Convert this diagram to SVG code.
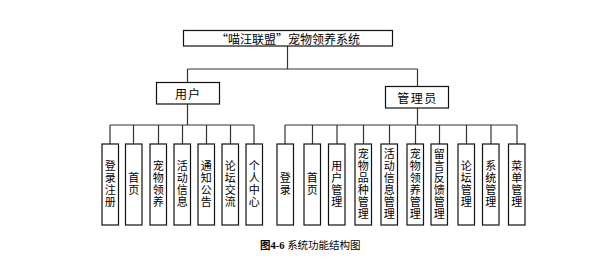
<svg xmlns="http://www.w3.org/2000/svg" width="607" height="273" viewBox="0 0 607 273">
<style>
.box{fill:#fff;stroke:#111;stroke-width:1.2}
.ln{fill:none;stroke:#333;stroke-width:1.2}
.t{font-family:"Noto Sans CJK SC","Noto Sans",sans-serif;font-size:12px;fill:#000;text-anchor:middle;dominant-baseline:central}
.v{font-family:"Noto Sans CJK SC","Noto Sans",sans-serif;font-size:11px;fill:#000;text-anchor:middle;writing-mode:vertical-rl;letter-spacing:1px}
</style>
<rect width="607" height="273" fill="#fff"/>
<g id="connectors">
<path class="ln" d="M287.5 46V69M187.5 69H417.5M187.5 69V82M417.5 69V86"/>
<path class="ln" d="M187.5 104V125M110 125H254M110 125V144M133.5 125V144M158.5 125V144M182.5 125V144M206.5 125V144M230.5 125V144M254 125V144"/>
<path class="ln" d="M417.5 108V125M285 125H517M285 125V144M312.5 125V144M337 125V144M363.5 125V144M389.5 125V144M415.5 125V144M439.5 125V144M466.5 125V144M491 125V144M517 125V144"/>
</g>
<g id="root"><rect class="box" x="183.5" y="30.5" width="209" height="15.5"/><text class="t" x="288" y="38.5">“喵汪联盟”宠物领养系统</text></g>
<g id="user"><rect class="box" x="156.5" y="82.5" width="63" height="21.5"/><text class="t" x="188" y="93.5" letter-spacing="1">用户</text></g>
<g id="admin"><rect class="box" x="385.5" y="86.5" width="63" height="21.5"/><text class="t" x="417.5" y="97.5" letter-spacing="1.5">管理员</text></g>
<g id="u1"><rect class="box" x="102" y="144" width="16.5" height="81"/><text class="v" x="110.3" y="184.5">登录注册</text></g>
<g id="u2"><rect class="box" x="125.5" y="144" width="16.5" height="81"/><text class="v" x="133.8" y="184.5">首页</text></g>
<g id="u3"><rect class="box" x="150" y="144" width="16.5" height="81"/><text class="v" x="158.3" y="184.5">宠物领养</text></g>
<g id="u4"><rect class="box" x="174" y="144" width="16.5" height="81"/><text class="v" x="182.3" y="184.5">活动信息</text></g>
<g id="u5"><rect class="box" x="198" y="144" width="16.5" height="81"/><text class="v" x="206.3" y="184.5">通知公告</text></g>
<g id="u6"><rect class="box" x="222" y="144" width="16.5" height="81"/><text class="v" x="230.3" y="184.5">论坛交流</text></g>
<g id="u7"><rect class="box" x="246" y="144" width="16.5" height="81"/><text class="v" x="254.3" y="184.5">个人中心</text></g>
<g id="a1"><rect class="box" x="277" y="144" width="16.5" height="81"/><text class="v" x="285.3" y="184.5">登录</text></g>
<g id="a2"><rect class="box" x="304" y="144" width="16.5" height="81"/><text class="v" x="312.3" y="184.5">首页</text></g>
<g id="a3"><rect class="box" x="328.5" y="144" width="16.5" height="81"/><text class="v" x="336.8" y="184.5">用户管理</text></g>
<g id="a4"><rect class="box" x="355" y="144" width="16.5" height="81"/><text class="v" x="363.3" y="184.5">宠物品种管理</text></g>
<g id="a5"><rect class="box" x="381" y="144" width="16.5" height="81"/><text class="v" x="389.3" y="184.5">活动信息管理</text></g>
<g id="a6"><rect class="box" x="407" y="144" width="16.5" height="81"/><text class="v" x="415.3" y="184.5">宠物领养管理</text></g>
<g id="a7"><rect class="box" x="431" y="144" width="16.5" height="81"/><text class="v" x="439.3" y="184.5">留言反馈管理</text></g>
<g id="a8"><rect class="box" x="458" y="144" width="16.5" height="81"/><text class="v" x="466.3" y="184.5">论坛管理</text></g>
<g id="a9"><rect class="box" x="482.5" y="144" width="16.5" height="81"/><text class="v" x="490.8" y="184.5">系统管理</text></g>
<g id="a10"><rect class="box" x="508.5" y="144" width="16.5" height="81"/><text class="v" x="516.8" y="184.5">菜单管理</text></g>
<g id="caption"><text x="260" y="249" font-size="10.5" fill="#000"><tspan font-family="'Noto Sans CJK SC',sans-serif" font-weight="bold">图</tspan><tspan font-family="'Liberation Serif',serif" font-weight="bold">4-6 </tspan><tspan font-family="'Noto Sans CJK SC',sans-serif">系统功能结构图</tspan></text></g>
</svg>
